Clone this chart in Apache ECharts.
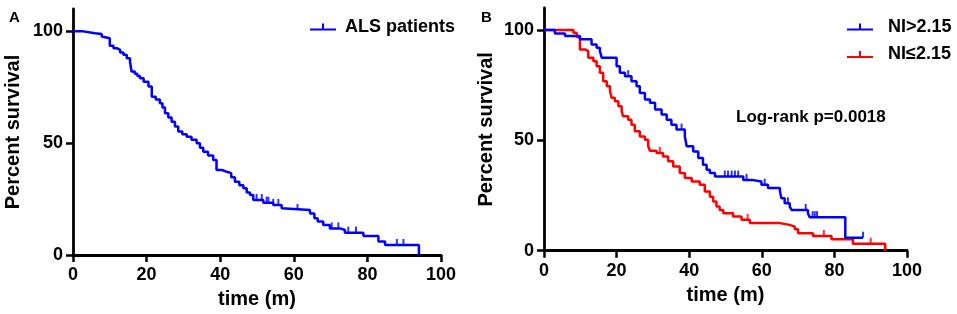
<!DOCTYPE html>
<html>
<head>
<meta charset="utf-8">
<script src="https://cdn.jsdelivr.net/npm/echarts@6/dist/echarts.min.js"></script>
<style>
  html, body { margin: 0; padding: 0; background: #fff; }
  #chart { width: 957px; height: 314px; }
</style>
</head>
<body>
<div id="chart"></div>
<script>
// Panel A: all ALS patients (time in months, percent survival)
const timeA = [0, 2.8, 6, 7.8, 8.2, 10, 11, 11.9, 12.8, 13.7, 14.6, 15.5, 15.9, 16.8, 17.5, 18.2, 19.2, 20.5,
  21.4, 22.5, 23.6, 24.3, 25, 25.9, 26.8, 27.7, 28.6, 29.7, 30.9, 32.2, 33.6, 34.5, 35.4, 36.7, 38.1, 39,
  40.5, 41.8, 43, 44, 45.2, 46.3, 47.2, 48.1, 49, 51.7, 54.4, 56.7, 57.2, 64.4, 65.6, 66.5, 68, 69.8,
  72.6, 73.9, 78.9, 83, 84.8, 94];
const survA = [100, 99.2, 98.8, 97.7, 96.9, 93.6, 92.5, 91.7, 90.5, 89.5, 88, 86.5, 82, 81, 80, 79, 77.5, 75.3,
  70.8, 69.5, 67.9, 66, 63.4, 61.5, 59.6, 57.5, 55.2, 54, 52.9, 51.5, 50, 48, 46.2, 44.5, 42.5, 38,
  37.2, 36.6, 34.8, 32.8, 31.2, 29.8, 28, 26.8, 24.6, 23.4, 22.4, 20.9, 20.1, 18.6, 16.4, 15, 13.4, 11.9,
  11.2, 10, 8.5, 6, 4.5, 0];
const censorA_t = [49.9, 51.3, 52.6, 53.1, 54.4, 55.8, 61, 70.3, 72.1, 74.8, 76.9, 88, 89.8];
const censorA_s = [24.6, 24.6, 23.4, 23.4, 22.4, 22.4, 20.1, 11.9, 11.9, 10, 10, 4.5, 4.5];

// Panel B: NI > 2.15 (blue)
const timeHi = [0, 3, 5.8, 9.9, 13.1, 14.5, 15.4, 15.9, 20, 20.9, 22.3, 24.1, 25.5, 26.4, 27.8, 29.2, 30.6,
  32.4, 33.8, 35.1, 36.5, 38.8, 39.3, 41.1, 42.5, 43.8, 44.8, 45.7, 47.1, 54.9, 57.2, 59.9, 61.7, 65,
  65.4, 66.3, 67.7, 68.2, 72.7, 73.2, 83, 87.9];
const survHi = [100, 98.4, 97.3, 95.8, 93.5, 92, 90.5, 87.5, 83.6, 80.6, 79.1, 76.8, 74.5, 71.5, 68.5, 67, 64,
  61.7, 59.4, 57.1, 54.9, 51.8, 47.3, 45, 42, 39, 36.7, 35.2, 33.6, 32.1, 31.4, 29.9, 28.4, 26.8,
  23.8, 21.5, 20, 18.5, 17, 15.2, 5.9, 5.9];
const censorHi_t = [23.2, 37.9, 49.8, 50.7, 51.7, 52.6, 53.5, 55.8, 60.8, 67.2, 72.1, 74, 74.6, 75.2, 87.9];
const censorHi_s = [79.1, 54.9, 33.6, 33.6, 33.6, 33.6, 33.6, 32.1, 29.9, 21.5, 18.5, 15.2, 15.2, 15.2, 5.9];

// Panel B: NI <= 2.15 (red)
const timeLo = [0, 8.1, 9, 9.9, 11.3, 12.2, 13.6, 14.5, 15.4, 16.3, 17.3, 18.2, 18.6, 19.5, 20.5, 21.4, 21.8,
  23.2, 24.1, 25, 26.4, 27.8, 28.7, 29.2, 31, 32.8, 34.2, 35.6, 37.4, 38.8, 40.7, 42.9, 44.3, 45.7,
  46.6, 47.5, 48.4, 49.4, 52.1, 54.4, 56.7, 65, 67.7, 69.1, 70, 74.1, 79.2, 85.1, 94];
const survLo = [100, 98.8, 96.8, 91.2, 90.5, 87.5, 85.9, 83.6, 80.6, 76.8, 74.5, 72.3, 69.3, 67.7, 65.5, 63.2, 60.9,
  59.4, 57.1, 54.1, 51.8, 50.3, 47.3, 45.3, 44.3, 42.7, 40.5, 38.2, 35.2, 32.9, 31.4, 29.9, 26.8, 24.5,
  22.3, 20, 18.5, 17, 15.5, 14, 12.5, 11.7, 10.9, 9.7, 7.9, 6.7, 5.2, 3.2, 0];
const censorLo_t = [31.9, 56.1, 77.1, 90];
const censorLo_s = [44.3, 14, 6.7, 3.2];

const yTicks = [0, 50, 100];
const logRankText = 'Log-rank p=0.0018';

const FONT = "'Liberation Sans', Arial, sans-serif";
const BLUE = '#0000ff';
const RED = '#ff0000';
const ICON = 'path://M0,5H26V7H0Z M12,0H14V6H12Z';

function pairs(xs, ys) {
  return xs.map((x, i) => [x, ys[i]]);
}

function xAxisFor(idx, gap) {
  return {
    type: 'value', gridIndex: idx, min: 0, max: 100, interval: 20,
    name: 'time (m)', nameLocation: 'middle', nameGap: gap,
    nameTextStyle: { fontFamily: FONT, fontWeight: 'bold', fontSize: 20, color: '#000' },
    axisLine: { show: true, onZero: false, lineStyle: { color: '#000', width: 2.8 } },
    axisTick: { show: true, length: 7, lineStyle: { color: '#000', width: 2.5 } },
    axisLabel: { fontFamily: FONT, fontWeight: 'bold', fontSize: 18, color: '#000', margin: 11 },
    splitLine: { show: false }
  };
}

function yAxisFor(idx, gap) {
  return {
    type: 'value', gridIndex: idx, min: 0, max: 110, interval: 50,
    name: 'Percent survival', nameLocation: 'middle', nameGap: gap,
    nameTextStyle: { fontFamily: FONT, fontWeight: 'bold', fontSize: 20, color: '#000' },
    axisLine: { show: true, onZero: false, lineStyle: { color: '#000', width: 2.8 } },
    axisTick: { show: true, length: 7, customValues: yTicks, lineStyle: { color: '#000', width: 2.5 } },
    axisLabel: {
      fontFamily: FONT, fontWeight: 'bold', fontSize: 18, color: '#000', margin: 10,
      customValues: yTicks,
      formatter: v => (yTicks.indexOf(v) >= 0 ? String(v) : '')
    },
    splitLine: { show: false }
  };
}

function curve(name, xi, data, color) {
  return {
    name: name, type: 'line', step: 'end', xAxisIndex: xi, yAxisIndex: xi,
    data: data, showSymbol: false, symbol: 'none', silent: true,
    lineStyle: { color: color, width: 2.5 }, itemStyle: { color: color }
  };
}

function censors(name, xi, data, color) {
  return {
    name: name, type: 'scatter', xAxisIndex: xi, yAxisIndex: xi, data: data,
    symbol: 'rect', symbolSize: [2, 6], symbolOffset: [0, -3], silent: true,
    itemStyle: { color: color }
  };
}

const chart = echarts.init(document.getElementById('chart'), null, { renderer: 'canvas' });
chart.setOption({
  animation: false,
  backgroundColor: '#fff',
  grid: [
    { left: 73, top: 9, width: 368, height: 246 },
    { left: 544, top: 8, width: 363, height: 242.7 }
  ],
  xAxis: [xAxisFor(0, 34), xAxisFor(1, 35)],
  yAxis: [yAxisFor(0, 50), yAxisFor(1, 48)],
  legend: [
    {
      data: [{ name: 'ALS patients', icon: ICON }],
      left: 305, top: 13, itemWidth: 26, itemHeight: 7,
      textStyle: { fontFamily: FONT, fontWeight: 'bold', fontSize: 18, color: '#000', padding: [0, 0, 0, 4] },
      selectedMode: false
    },
    {
      data: [{ name: 'NI>2.15', icon: ICON }, { name: 'NI≤2.15', icon: ICON }],
      left: 842, top: 13, orient: 'vertical', itemGap: 9.5, itemWidth: 26, itemHeight: 7,
      textStyle: { fontFamily: FONT, fontWeight: 'bold', fontSize: 18, color: '#000', padding: [0, 0, 0, 10] },
      selectedMode: false
    }
  ],
  graphic: [
    { type: 'text', left: 9, top: 10, style: { text: 'A', font: 'bold 15px ' + FONT, fill: '#000' } },
    { type: 'text', left: 481, top: 10, style: { text: 'B', font: 'bold 15px ' + FONT, fill: '#000' } },
    { type: 'text', left: 736, top: 109, style: { text: logRankText, font: 'bold 17px ' + FONT, fill: '#000' } }
  ],
  series: [
    curve('ALS patients', 0, pairs(timeA, survA), BLUE),
    censors('ALS patients', 0, pairs(censorA_t, censorA_s), BLUE),
    curve('NI≤2.15', 1, pairs(timeLo, survLo), RED),
    censors('NI≤2.15', 1, pairs(censorLo_t, censorLo_s), RED),
    curve('NI>2.15', 1, pairs(timeHi, survHi), BLUE),
    censors('NI>2.15', 1, pairs(censorHi_t, censorHi_s), BLUE)
  ]
});
</script>
</body>
</html>
